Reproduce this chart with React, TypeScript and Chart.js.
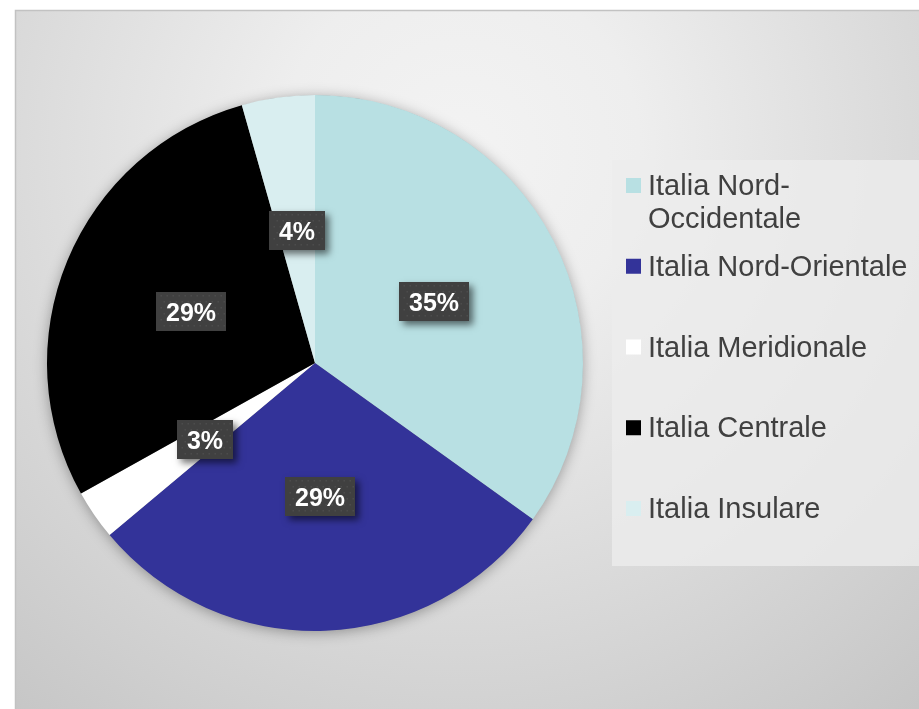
import React, { useEffect, useRef } from "react";
import { Chart, registerables } from "chart.js";

Chart.register(...registerables);

const categories = [
  "Italia Nord-Occidentale",
  "Italia Nord-Orientale",
  "Italia Meridionale",
  "Italia Centrale",
  "Italia Insulare",
];
const values = [34.9, 29.0, 3.0, 28.7, 4.4];
const sliceColors = ["#b8e0e3", "#333399", "#ffffff", "#000000", "#d9eef0"];

const FONT = '"Liberation Sans", Arial, sans-serif';
const W = 919;
const H = 709;

function wrapText(ctx: CanvasRenderingContext2D, text: string, maxW: number): string[] {
  const tokens: string[] = [];
  text.split(" ").forEach((word, wi) => {
    const parts = word.split(/(?<=-)/);
    parts.forEach((p, pi) => {
      tokens.push((wi > 0 && pi === 0 ? " " : "") + p);
    });
  });
  const lines: string[] = [];
  let cur = "";
  for (const t of tokens) {
    const trial = cur + t;
    if (cur && ctx.measureText(trial).width > maxW) {
      lines.push(cur);
      cur = t.replace(/^ /, "");
    } else {
      cur = trial;
    }
  }
  if (cur) lines.push(cur);
  return lines;
}

const decorPlugin = {
  id: "decor",
  beforeDraw(chart: any) {
    const ctx: CanvasRenderingContext2D = chart.ctx;
    ctx.save();
    ctx.fillStyle = "#ffffff";
    ctx.fillRect(0, 0, W, H);
    const g = ctx.createRadialGradient(460, 150, 0, 460, 150, 720);
    g.addColorStop(0, "#f3f3f3");
    g.addColorStop(0.25, "#eeeeee");
    g.addColorStop(1, "#c6c6c6");
    ctx.fillStyle = g;
    ctx.fillRect(15, 10, W, H);
    ctx.strokeStyle = "#c2c2c2";
    ctx.lineWidth = 1.5;
    ctx.beginPath();
    ctx.moveTo(15.5, H + 5);
    ctx.lineTo(15.5, 10.5);
    ctx.lineTo(W + 5, 10.5);
    ctx.stroke();
    ctx.restore();
  },
  beforeDatasetsDraw(chart: any) {
    const arc = chart.getDatasetMeta(0).data[0];
    if (!arc) return;
    const ctx: CanvasRenderingContext2D = chart.ctx;
    ctx.save();
    ctx.shadowColor = "rgba(0,0,0,0.35)";
    ctx.shadowBlur = 14;
    ctx.shadowOffsetX = 0;
    ctx.shadowOffsetY = 2;
    ctx.fillStyle = "#999999";
    ctx.beginPath();
    ctx.arc(arc.x, arc.y, arc.outerRadius - 0.5, 0, Math.PI * 2);
    ctx.fill();
    ctx.restore();
  },
  afterDatasetsDraw(chart: any) {
    const ctx: CanvasRenderingContext2D = chart.ctx;
    const meta = chart.getDatasetMeta(0);
    const data: number[] = chart.data.datasets[0].data;
    const total = data.reduce((a, b) => a + b, 0);
    ctx.save();
    ctx.font = `bold 25px ${FONT}`;
    meta.data.forEach((arc: any, i: number) => {
      const mid = (arc.startAngle + arc.endAngle) / 2;
      const r = arc.outerRadius / 2;
      const cx = arc.x + Math.cos(mid) * r;
      const cy = arc.y + Math.sin(mid) * r;
      const label = Math.round((data[i] / total) * 100) + "%";
      const tw = ctx.measureText(label).width;
      const bw = Math.round(tw + 20);
      const bh = 39;
      const bx = Math.round(cx - bw / 2);
      const by = Math.round(cy - bh / 2);
      ctx.save();
      ctx.shadowColor = "rgba(0,0,0,0.55)";
      ctx.shadowBlur = 7;
      ctx.shadowOffsetX = 4;
      ctx.shadowOffsetY = 4;
      ctx.fillStyle = "#404040";
      ctx.fillRect(bx, by, bw, bh);
      ctx.restore();
      ctx.fillStyle = "#4c4c4c";
      for (let yy = by + 3; yy < by + bh - 1; yy += 6) {
        for (let xx = bx + 3 + (((yy - by) / 6) % 2) * 3; xx < bx + bw - 1; xx += 6) {
          ctx.fillRect(xx, yy, 1.5, 1.5);
        }
      }
      ctx.fillStyle = "#ffffff";
      ctx.textAlign = "center";
      ctx.textBaseline = "alphabetic";
      ctx.fillText(label, bx + bw / 2, by + bh / 2 + 9);
    });
    ctx.restore();
  },
  afterDraw(chart: any) {
    const ctx: CanvasRenderingContext2D = chart.ctx;
    const labels: string[] = chart.data.labels;
    const colors: string[] = chart.data.datasets[0].backgroundColor;
    ctx.save();
    // legend box
    ctx.fillStyle = "rgba(236,236,236,0.8)";
    ctx.fillRect(612, 160, W - 612 + 2, 406);
    ctx.font = `29px ${FONT}`;
    ctx.textAlign = "left";
    ctx.textBaseline = "alphabetic";
    const textX = 648;
    const step = 80.75;
    labels.forEach((lab, i) => {
      const base = 195 + i * step;
      ctx.fillStyle = colors[i];
      ctx.fillRect(626, base - 17, 15, 15);
      ctx.fillStyle = "#404040";
      const lines = wrapText(ctx, lab, W - textX - 4);
      lines.forEach((ln, li) => {
        ctx.fillText(ln, textX, base + li * 33);
      });
    });
    ctx.restore();
  },
};

export default function App() {
  const ref = useRef<HTMLCanvasElement | null>(null);
  useEffect(() => {
    document.body.style.margin = "0";
    if (!ref.current) return;
    const chart = new Chart(ref.current, {
      type: "pie",
      data: {
        labels: categories,
        datasets: [
          {
            data: values,
            backgroundColor: sliceColors,
            borderWidth: 0,
          },
        ],
      },
      options: {
        animation: false,
        responsive: false,
        events: [],
        layout: { padding: { left: 47, right: W - 583, top: 95, bottom: H - 631 } },
        plugins: {
          legend: { display: false },
          tooltip: { enabled: false },
          title: { display: false },
        },
      },
      plugins: [decorPlugin],
    });
    return () => chart.destroy();
  }, []);
  return (
    <div style={{ position: "absolute", left: 0, top: 0, width: W, height: H }}>
      <canvas ref={ref} width={W} height={H} style={{ display: "block" }} />
    </div>
  );
}
